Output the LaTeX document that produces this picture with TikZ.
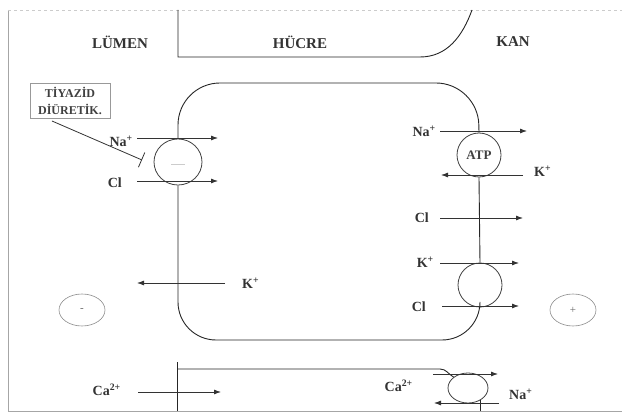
\documentclass[tikz,border=0pt]{standalone}
\usepackage{fontspec}
\setmainfont{Liberation Serif}
\usetikzlibrary{arrows.meta,shapes.geometric}
\begin{document}
\begin{tikzpicture}[x=1pt,y=-1pt,
  wall/.style={line width=0.9pt,black!85},
  flow/.style={line width=0.8pt,black!80,-{Latex[length=7pt,width=5pt]}},
  ion/.style={font=\fontsize{14}{14}\selectfont\bfseries,text=black!80,inner sep=0pt},
  region/.style={font=\fontsize{15}{15}\selectfont\bfseries,text=black!80,inner sep=0pt},
  carrier/.style={ellipse,draw,line width=0.8pt,black!75,inner sep=0pt},
  charge/.style={ellipse,draw=black!45,line width=0.6pt,minimum width=46pt,minimum height=32pt,inner sep=0pt,font=\fontsize{11}{11}\selectfont,text=black!60},
  frame/.style={black!35,line width=0.8pt}]
\useasboundingbox (0,0) rectangle (622,417);
% frame
\draw[frame] (8,10) -- (8,411) -- (622,411);
\draw[frame,black!20,dashed] (8,10) -- (622,10);
% top regions
\node[region] (lumen) at (120,42) {LÜMEN};
\node[region] (hucre) at (300,42) {HÜCRE};
\node[region] (kan) at (513,42) {KAN};
\coordinate (tl) at (178,10);
\coordinate (tr) at (472,10);
\draw[wall] (tl) -- (178,57) -- (420,57) to[out=0,in=-110] (tr);
% carriers
\node[carrier,minimum width=48pt,minimum height=46pt] (nkcc) at (178,162) {};
\draw[black!20,line width=0.5pt] (171,164) -- (185,164);
\node[carrier,minimum width=44pt,minimum height=44pt,font=\fontsize{13}{13}\selectfont\bfseries] (atp) at (479,155) {ATP};
\node[carrier,minimum width=44pt,minimum height=44pt] (kcc) at (480,285) {};
\node[carrier,minimum width=40pt,minimum height=30pt] (ncx) at (468,388) {};
% cell outline
\draw[wall,rounded corners=42pt] (nkcc.north) -- (178,83) -- (478,83) -- (atp.north);
\draw[wall] (atp.south) -- (kcc.north);
\draw[wall,rounded corners=38pt] (kcc.south) -- (480,340) -- (178,340) -- (nkcc.south);
% bottom membrane
\coordinate (bv1) at (177,362);
\coordinate (bv2) at (177,411);
\draw[wall] (bv1) -- (bv2);
\draw[wall] (177,369) -- (440,369) to[out=0,in=150] (ncx.north west);
\coordinate (nb0) at (480,400);
\coordinate (nb) at (480,411);
\draw[wall] (nb0) -- (nb);
% thiazide box
\node[draw=black!40,line width=0.6pt,align=center,inner xsep=8pt,inner ysep=4pt,
      font=\fontsize{12}{17}\selectfont\bfseries,text=black!75] (tiy) at (70,101) {TİYAZİD\\DİÜRETİK.};
\coordinate (inh0) at (52,121);
\coordinate (inh1) at (142,160);
\draw[line width=0.8pt,black!80,-{Bar[width=16pt]}] (inh0) -- (inh1);
% left carrier flows
\coordinate (na1a) at (137,138); \coordinate (na1b) at (218,138);
\coordinate (cl1a) at (137,181); \coordinate (cl1b) at (218,181);
\draw[flow] (na1a) -- (na1b);
\draw[flow] (cl1a) -- (cl1b);
\node[ion,anchor=east] (na1) at (133,141) {Na\textsuperscript{+}};
\node[ion,anchor=east] (cl1) at (122,183) {Cl};
% right flows
\coordinate (na2a) at (440,131); \coordinate (na2b) at (527,131);
\draw[flow] (na2a) -- (na2b);
\node[ion,anchor=east] (na2) at (436,131) {Na\textsuperscript{+}};
\coordinate (k2a) at (523,175); \coordinate (k2b) at (441,175);
\draw[flow] (k2a) -- (k2b);
\node[ion,anchor=west] (k2) at (534,171) {K\textsuperscript{+}};
\coordinate (cl2a) at (440,218); \coordinate (cl2b) at (523,218);
\draw[flow] (cl2a) -- (cl2b);
\node[ion,anchor=east] (cl2) at (429,218) {Cl};
\coordinate (k3a) at (440,263); \coordinate (k3b) at (519,263);
\draw[flow] (k3a) -- (k3b);
\node[ion,anchor=east] (k3) at (434,262) {K\textsuperscript{+}};
\coordinate (cl3a) at (442,306); \coordinate (cl3b) at (519,306);
\draw[flow] (cl3a) -- (cl3b);
\node[ion,anchor=east] (cl3) at (426,307) {Cl};
% K+ leak
\coordinate (k4a) at (225,283); \coordinate (k4b) at (137,283);
\draw[flow] (k4a) -- (k4b);
\node[ion,anchor=west] (k4) at (242,283) {K\textsuperscript{+}};
% charges
\node[charge] (minus) at (82,310) {-};
\node[charge] (plus) at (573,310) {+};
% bottom Ca flows
\coordinate (ca1a) at (138,392); \coordinate (ca1b) at (221,392);
\draw[flow] (ca1a) -- (ca1b);
\node[ion,anchor=east] (ca1) at (121,390) {Ca\textsuperscript{2+}};
\coordinate (ca2a) at (433,374); \coordinate (ca2b) at (498,374);
\draw[flow] (ca2a) -- (ca2b);
\node[ion,anchor=east] (ca2) at (413,386) {Ca\textsuperscript{2+}};
\coordinate (na3a) at (499,403); \coordinate (na3b) at (434,403);
\draw[flow] (na3a) -- (na3b);
\node[ion,anchor=west] (na3) at (509,394) {Na\textsuperscript{+}};
\end{tikzpicture}
\end{document}
